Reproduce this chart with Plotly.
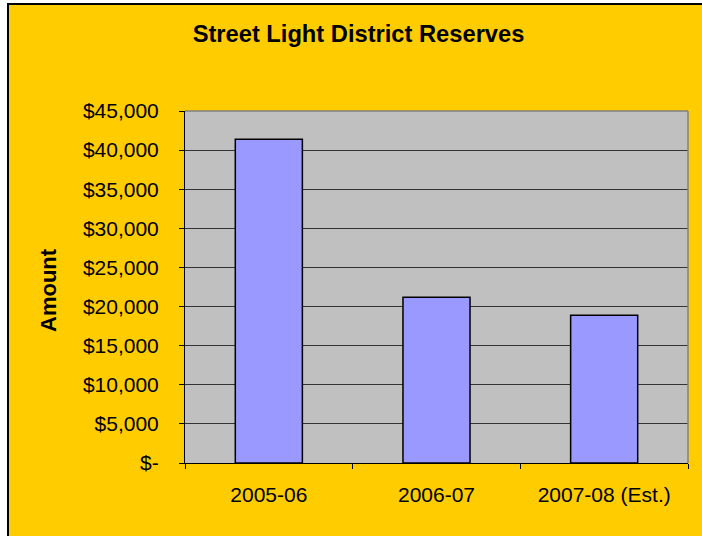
import plotly.graph_objects as go

# Reserve balances by fiscal year
years = ["2005-06", "2006-07", "2007-08 (Est.)"]
reserves = [41400, 21200, 18900]

# Y axis ticks in accounting style
tick_values = [0, 5000, 10000, 15000, 20000, 25000, 30000, 35000, 40000, 45000]
tick_labels = ["$-", "$5,000", "$10,000", "$15,000", "$20,000", "$25,000",
               "$30,000", "$35,000", "$40,000", "$45,000"]

W, H = 702, 536
L, R, T, B = 185, 14, 111, 73
pw, ph = W - L - R, H - T - B


def px_x(px):
    return (px - L) / pw


def px_y(py):
    return (H - B - py) / ph


FONT = "Liberation Sans, Arial, sans-serif"
YELLOW = "#FFCC00"

fig = go.Figure(
    go.Bar(
        x=years,
        y=reserves,
        width=0.4,
        marker=dict(color="#9999FF", line=dict(color="black", width=1.5)),
    )
)

shapes = [
    # white strip on the left and top outside the chart frame
    dict(type="rect", xref="paper", yref="paper", x0=px_x(-10), x1=px_x(7),
         y0=px_y(560), y1=px_y(-10), fillcolor="white", line=dict(width=0), layer="above"),
    dict(type="rect", xref="paper", yref="paper", x0=px_x(-10), x1=px_x(720),
         y0=px_y(3), y1=px_y(-10), fillcolor="white", line=dict(width=0), layer="above"),
    # chart frame
    dict(type="rect", xref="paper", yref="paper", x0=px_x(8), x1=px_x(740),
         y0=px_y(580), y1=px_y(4), fillcolor="rgba(0,0,0,0)",
         line=dict(color="black", width=2), layer="above"),
    # plot area top and right edges
    dict(type="line", xref="paper", yref="paper", x0=0, x1=1, y0=1, y1=1,
         line=dict(color="#808080", width=1.5), layer="above"),
    dict(type="line", xref="paper", yref="paper", x0=1, x1=1, y0=0, y1=1,
         line=dict(color="#808080", width=1.5), layer="above"),
]

fig.update_layout(
    width=W,
    height=H,
    margin=dict(l=L, r=R, t=T, b=B, pad=0),
    paper_bgcolor=YELLOW,
    plot_bgcolor="#C0C0C0",
    showlegend=False,
    font=dict(family=FONT, color="black", size=21),
    title=dict(
        text="<b>Street Light District Reserves</b>",
        font=dict(family=FONT, size=23.7, color="black"),
        x=358.5 / W, xanchor="center", xref="container",
        y=1 - 34 / H, yanchor="middle", yref="container",
    ),
    xaxis=dict(
        type="category",
        range=[-0.5, 2.5],
        showline=True, linecolor="black", linewidth=1,
        ticks="outside", tickson="boundaries", ticklen=5, tickcolor="black",
        showgrid=False,
        tickfont=dict(family=FONT, size=21, color="black"),
        ticklabelstandoff=13,
    ),
    yaxis=dict(
        range=[0, 45000],
        tickvals=tick_values,
        ticktext=tick_labels,
        showline=True, linecolor="black", linewidth=1,
        ticks="outside", ticklen=5, tickcolor="black",
        showgrid=True, gridcolor="#333333", gridwidth=1,
        zeroline=False,
        tickfont=dict(family=FONT, size=21, color="black"),
        ticklabelstandoff=16,
    ),
    shapes=shapes,
    annotations=[
        dict(text="<b>Amount</b>", textangle=-90, xref="paper", yref="paper",
             x=px_x(48), y=px_y(290), xanchor="center", yanchor="middle",
             showarrow=False, font=dict(family=FONT, size=22, color="black")),
    ],
)

fig.write_html("out.html")
